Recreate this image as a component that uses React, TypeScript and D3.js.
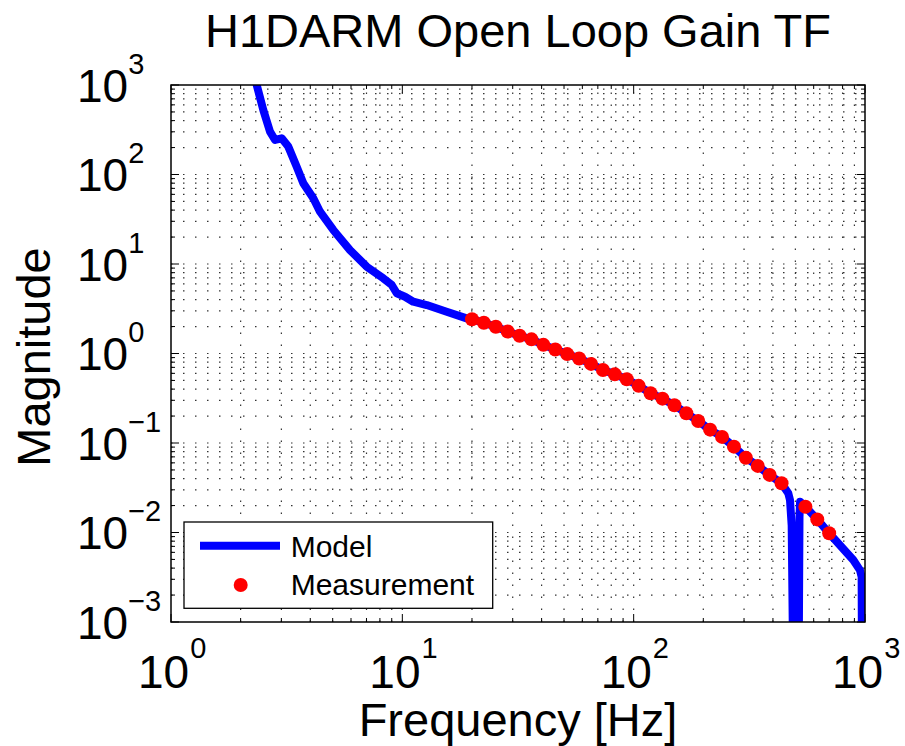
import React from "react";
import * as d3 from "d3";

const measFreq = [20, 22.51, 25.35, 28.53, 32.13, 36.17, 40.72, 45.85, 51.61, 58.11, 65.42, 73.65, 82.93, 93.35, 105.1, 118.3, 133.2, 150.0, 168.9, 190.1, 214.0, 241.0, 271.3, 305.4, 343.9, 387.1, 435.8, 552.4, 621.9, 700.0];
const measMag = [2.41, 2.21, 1.99, 1.76, 1.58, 1.44, 1.25, 1.11, 0.985, 0.88, 0.765, 0.655, 0.585, 0.515, 0.435, 0.36, 0.313, 0.264, 0.215, 0.176, 0.141, 0.117, 0.091, 0.0685, 0.0555, 0.044, 0.0355, 0.0194, 0.014, 0.0098];

const modelFreq = [2.28, 2.347, 2.506, 2.679, 2.817, 3.01, 3.214, 3.494, 3.732, 4.123, 4.407, 5.029, 5.94, 7.015, 8.275, 9.0, 9.46, 10.27, 11.15, 12.75, 15.55, 18.97,
  20, 22.51, 25.35, 28.53, 32.13, 36.17, 40.72, 45.85, 51.61, 58.11, 65.42, 73.65, 82.93, 93.35, 105.1, 118.3, 133.2, 150.0, 168.9, 190.1, 214.0, 241.0, 271.3, 305.4, 343.9, 387.1, 435.8,
  466, 474, 482, 487, 492, 514, 518, 521, 524, 552.4, 621.9, 700.0, 890, 951, 967, 972];
const modelMag = [1330, 1000, 526, 301, 243, 254, 205, 122, 79.8, 54.2, 38.4, 24.0, 14.3, 9.33, 6.92, 5.83, 4.71, 4.31, 3.79, 3.48, 2.93, 2.47,
  2.41, 2.21, 1.99, 1.76, 1.58, 1.44, 1.25, 1.11, 0.985, 0.88, 0.765, 0.655, 0.585, 0.515, 0.435, 0.36, 0.313, 0.264, 0.215, 0.176, 0.141, 0.117, 0.091, 0.0685, 0.0555, 0.044, 0.0355,
  0.0274, 0.0231, 0.012, 0.001, 0.00001, 0.00001, 0.001, 0.015, 0.0221, 0.0194, 0.014, 0.0098, 0.00493, 0.0038, 0.0032, 0.0001];

const xTickExps = ["0", "1", "2", "3"];
const yTickExps = ["3", "2", "1", "0", "\u22121", "\u22122", "\u22123"];
const yTickVals = [1e3, 1e2, 1e1, 1e0, 1e-1, 1e-2, 1e-3];
const xTickVals = [1, 10, 100, 1000];

const titleText = "H1DARM Open Loop Gain TF";
const xLabel = "Frequency [Hz]";
const yLabel = "Magnitude";
const legendLabels = ["Model", "Measurement"];

const W = 905, H = 746;
const L = 171, R = 865, T = 85, B = 622;
const FONT = "'Liberation Sans', Arial, Helvetica, sans-serif";

export default function App() {
  const x = d3.scaleLog().domain([1, 1000]).range([L, R]);
  const y = d3.scaleLog().domain([1e-3, 1e3]).range([B, T]);

  const xGrid: number[] = [];
  for (let e = 0; e < 3; e++) for (let k = 1; k <= 9; k++) xGrid.push(k * Math.pow(10, e));
  xGrid.push(1000);
  const yGrid: number[] = [];
  for (let e = -3; e < 3; e++) for (let k = 1; k <= 9; k++) yGrid.push(k * Math.pow(10, e));
  yGrid.push(1000);

  const modelData = modelFreq.map((f, i) => [f, modelMag[i]] as [number, number]);
  const line = d3.line<[number, number]>().x(d => x(d[0])).y(d => y(d[1]));

  const isMajor = (v: number) => Math.abs(Math.log10(v) - Math.round(Math.log10(v))) < 1e-9;

  return (
    <svg width={W} height={H} style={{ position: "absolute", left: 0, top: 0, background: "#fff" }} fontFamily={FONT}>
      <defs>
        <clipPath id="plotclip">
          <rect x={L} y={T} width={R - L} height={B - T} />
        </clipPath>
      </defs>
      <rect x={0} y={0} width={W} height={H} fill="#fff" />
      {/* grid */}
      <g stroke="#333" strokeWidth={1.2} strokeDasharray="1.5 10.5">
        {xGrid.filter(v => v > 1 && v < 1000).map((v, i) => (
          <line key={"gx" + i} x1={x(v)} x2={x(v)} y1={B} y2={T} />
        ))}
        {yGrid.filter(v => v > 1e-3 && v < 1e3).map((v, i) => (
          <line key={"gy" + i} x1={L} x2={R} y1={y(v)} y2={y(v)} />
        ))}
      </g>
      {/* ticks */}
      <g stroke="#000" strokeWidth={1}>
        {xGrid.map((v, i) => {
          const len = isMajor(v) ? 8 : 4;
          return (
            <g key={"tx" + i}>
              <line x1={x(v)} x2={x(v)} y1={B} y2={B - len} />
              <line x1={x(v)} x2={x(v)} y1={T} y2={T + len} />
            </g>
          );
        })}
        {yGrid.map((v, i) => {
          const len = isMajor(v) ? 8 : 4;
          return (
            <g key={"ty" + i}>
              <line x1={L} x2={L + len} y1={y(v)} y2={y(v)} />
              <line x1={R} x2={R - len} y1={y(v)} y2={y(v)} />
            </g>
          );
        })}
      </g>
      {/* model */}
      <g clipPath="url(#plotclip)">
        <path d={line(modelData) || ""} fill="none" stroke="#0000ff" strokeWidth={8} strokeLinejoin="round" />
      </g>
      {/* measurement */}
      <g fill="#ff0000">
        {measFreq.map((f, i) => (
          <circle key={"m" + i} cx={x(f)} cy={y(measMag[i])} r={7} />
        ))}
      </g>
      {/* axes box */}
      <rect x={L} y={T} width={R - L} height={B - T} fill="none" stroke="#000" strokeWidth={1.5} />
      {/* x tick labels */}
      {xTickVals.map((v, i) => (
        <text key={"xl" + i} x={x(v) - 33} y={688} fontSize={46} fill="#000">
          10<tspan fontSize={29} dy={-30} dx={1}>{xTickExps[i]}</tspan>
        </text>
      ))}
      {/* y tick labels */}
      {yTickVals.map((v, i) => (
        <text key={"yl" + i} x={77} y={y(v) + 16.5} fontSize={46} fill="#000">
          10<tspan fontSize={29} dy={-28} dx={0}>{yTickExps[i]}</tspan>
        </text>
      ))}
      {/* title and labels */}
      <text x={(L + R) / 2} y={47} fontSize={47} textAnchor="middle" fill="#000">{titleText}</text>
      <text x={(L + R) / 2} y={736} fontSize={47} textAnchor="middle" fill="#000">{xLabel}</text>
      <text transform={`translate(50,357) rotate(-90)`} fontSize={47} textAnchor="middle" fill="#000">{yLabel}</text>
      {/* legend */}
      <g>
        <rect x={184} y={522} width={308.7} height={86.3} fill="#fff" stroke="#000" strokeWidth={1.3} />
        <line x1={200} x2={280} y1={545.7} y2={545.7} stroke="#0000ff" strokeWidth={8} />
        <text x={290.7} y={556.7} fontSize={30} fill="#000">{legendLabels[0]}</text>
        <circle cx={240.7} cy={585} r={7} fill="#ff0000" />
        <text x={290.7} y={595} fontSize={30} fill="#000">{legendLabels[1]}</text>
      </g>
    </svg>
  );
}
